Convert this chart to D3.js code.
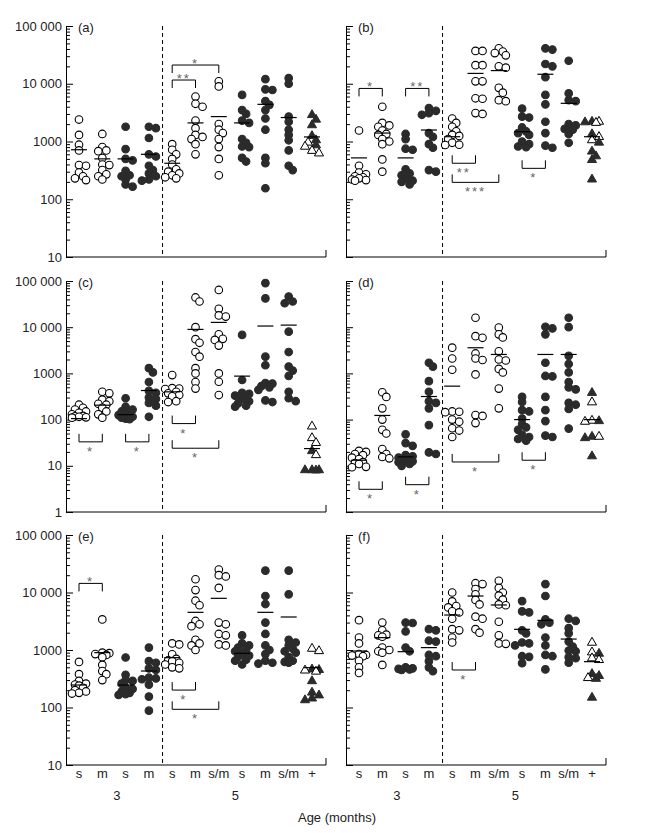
<!DOCTYPE html>
<html>
<head>
<meta charset="utf-8">
<script src="https://cdn.jsdelivr.net/npm/d3@7"></script>
<style>
  body { margin: 0; background: #fff; }
  svg { display: block; font-family: "Liberation Sans", Arial, sans-serif; }
</style>
</head>
<body>
<svg id="fig" width="652" height="833"></svg>
<script>
// column labels along the bottom
const groupLabels = ["s", "m", "s", "m", "s", "m", "s/m", "s", "m", "s/m", "+"];
const ageLabels = ["3", "5"];
const panelNames = ["(a)", "(b)", "(c)", "(d)", "(e)", "(f)"];
const openCols = [0, 1, 4, 5, 6]; // open circles, the others filled

// --- (a) ---
const a_vals = [
  [2400, 1300, 880, 700, 390, 380, 290, 250, 230, 215],
  [1350, 800, 700, 680, 520, 400, 390, 320, 270, 250, 220],
  [1800, 740, 500, 470, 310, 260, 250, 220, 180, 165],
  [1800, 1700, 1150, 600, 550, 380, 320, 280, 250, 220, 210],
  [900, 720, 600, 500, 400, 330, 300, 280, 260, 240, 230],
  [6000, 4500, 4000, 2300, 1700, 1300, 1200, 1100, 900, 600],
  [11000, 9000, 2000, 1600, 1400, 1100, 800, 500, 260],
  [6400, 3500, 3000, 2300, 2100, 1100, 950, 820, 800, 520, 450],
  [12000, 8000, 7800, 5000, 4300, 3500, 2500, 1600, 520, 420, 155],
  [12500, 10000, 2700, 2200, 1600, 1300, 1050, 700, 380, 320]
];
const a_plusFilled = [3000, 2500, 2000, 1300, 1100, 900];
const a_plusOpen = [1000, 850, 720, 650];
const a_means = [720, 500, 500, 600, 420, 2100, 2700, 2100, 4400, 2600, 1200];
const a_brackets = [[4, 5, 11600, "down", "**"], [4, 6, 21100, "down", "*"]];

// --- (b) ---
const b_vals = [
  [1550, 380, 290, 270, 250, 240, 230, 220, 215, 210],
  [4000, 2100, 1900, 1800, 1550, 1350, 1300, 1100, 1000, 900, 490, 300],
  [1350, 1100, 750, 720, 330, 280, 260, 230, 210, 200, 180],
  [3800, 3400, 3100, 2900, 1400, 1200, 900, 780, 320, 300],
  [2500, 2100, 1800, 1500, 1300, 1250, 1100, 950, 880, 870],
  [37000, 37000, 21000, 21000, 11000, 11000, 5600, 5500, 3100, 3000],
  [41000, 36000, 34000, 31000, 20000, 19000, 8500, 7000, 5200, 5000],
  [3700, 2700, 2600, 1750, 1500, 1400, 1300, 1000, 900, 820, 800],
  [41000, 39000, 22000, 20000, 13000, 6400, 4400, 2200, 1400, 850, 780],
  [25000, 6800, 5200, 5000, 2000, 1900, 1650, 1600, 1350, 950]
];
const b_plusFilled = [2300, 2250, 1400, 1000, 700, 580, 500, 230];
const b_plusOpen = [2300, 2200, 1250, 1100];
const b_means = [520, 1400, 520, 1580, 1210, 15100, 16900, 1480, 14600, 4580, 1210];
const b_brackets = [[0, 1, 8300, "down", "*"], [2, 3, 8300, "down", "**"],
  [4, 5, 420, "up", "**"], [4, 6, 196, "up", "***"], [7, 8, 343, "up", "*"]];

// --- (c) ---
const c_vals = [
  [210, 180, 165, 150, 140, 130, 120, 118, 115, 112, 110],
  [400, 370, 270, 250, 220, 210, 180, 150, 130, 110],
  [290, 190, 165, 150, 140, 130, 125, 115, 110, 105, 102],
  [1300, 1050, 650, 420, 380, 300, 280, 230, 200, 115],
  [920, 480, 470, 460, 400, 370, 340, 320, 250, 240],
  [44000, 36000, 10000, 5500, 4600, 2900, 2300, 1300, 1000, 650, 470],
  [64000, 25000, 18000, 17000, 7000, 5600, 5300, 4000, 1000, 660, 340],
  [6800, 720, 380, 360, 330, 310, 280, 250, 225, 200, 190],
  [90000, 42000, 2300, 1500, 620, 600, 530, 500, 440, 260, 240],
  [46000, 36000, 33000, 8000, 2900, 1400, 1150, 880, 400, 290, 250]
];
const c_plusFilled = [22, 8.5, 8.5, 8.5, 8.4];
const c_plusOpen = [75, 42, 33, 18];
const c_means = [105, 205, 128, 426, 399, 8960, 12700, 873, 10600, 11100, 23.6];
const c_brackets = [[0, 1, 33, "up", "*"], [2, 3, 33, "up", "*"],
  [4, 5, 82, "up", "*"], [4, 6, 24, "up", "*"]];

// --- (d) ---
const d_vals = [
  [21, 20, 18, 17, 15, 14, 12, 11.5, 11, 9.5, 9.3],
  [390, 310, 175, 100, 60, 50, 23, 18, 15.5, 14.5],
  [48, 31, 27, 17, 16, 15, 13, 12.5, 12, 11, 10],
  [1700, 1400, 680, 400, 250, 230, 175, 76, 19.5, 18],
  [3600, 2100, 1200, 150, 148, 145, 100, 90, 65, 58, 42],
  [16000, 6400, 5900, 2700, 2100, 1950, 950, 125, 120, 84],
  [9800, 7000, 6000, 3000, 2000, 1900, 1250, 1050, 470, 175],
  [310, 240, 160, 150, 105, 80, 68, 60, 47, 42, 38, 35],
  [10200, 9400, 7000, 1700, 880, 860, 310, 160, 93, 45, 42],
  [16000, 10000, 2400, 1600, 1050, 650, 500, 450, 230, 210, 170, 64]
];
const d_plusFilled = [400, 98, 45, 42, 17];
const d_plusOpen = [250, 100, 95, 45];
const d_means = [13.2, 123, 15.6, 316, 530, 3590, 2570, 100, 2570, 2570, 100];
const d_brackets = [[0, 1, 3.1, "up", "*"], [2, 3, 3.9, "up", "*"],
  [4, 6, 12.1, "up", "*"], [7, 8, 13.2, "up", "*"]];

// --- (e) ---
const e_vals = [
  [620, 380, 290, 260, 250, 240, 220, 200, 190, 180, 175],
  [3400, 900, 880, 850, 820, 750, 550, 430, 380, 300],
  [740, 370, 300, 290, 260, 220, 210, 190, 180, 170, 165],
  [1100, 640, 600, 480, 450, 330, 320, 310, 250, 155, 88],
  [1300, 1250, 840, 700, 660, 640, 600, 560, 500, 480],
  [17000, 11000, 7200, 6000, 3200, 2800, 2600, 1500, 1300, 1200, 1000],
  [25000, 20000, 19000, 12000, 3000, 2800, 1900, 1800, 1250, 1200],
  [1800, 1300, 1200, 1100, 1000, 950, 870, 800, 760, 680, 650, 560],
  [24000, 8700, 6300, 3000, 1900, 1200, 1000, 850, 650, 600, 580],
  [24000, 9300, 1500, 1350, 1200, 1050, 950, 900, 750, 650, 620, 600]
];
const e_plusFilled = [480, 470, 300, 190, 170, 150, 140];
const e_plusOpen = [1100, 1000, 460, 440];
const e_means = [246, 900, 246, 431, 736, 4520, 7920, 875, 4520, 3750, 493];
const e_brackets = [[0, 1, 14400, "down", "*"], [4, 5, 201, "up", "*"], [4, 6, 93, "up", "*"]];

// --- (f) ---
const f_vals = [
  [3300, 1650, 1300, 850, 820, 800, 780, 650, 500, 400],
  [3000, 2200, 1850, 1800, 1700, 1100, 1000, 950, 900, 550],
  [3000, 2950, 2100, 1100, 950, 500, 480, 470, 460, 450],
  [2300, 2200, 1450, 1400, 820, 780, 640, 500, 430],
  [10000, 7000, 5800, 5500, 4700, 4500, 3500, 2300, 2200, 1650, 1350],
  [14500, 14000, 11500, 9300, 7400, 6200, 3800, 3500, 2300, 2000],
  [16000, 12000, 10000, 8800, 7500, 6200, 6000, 3100, 1800, 1300, 1280],
  [7100, 4700, 4500, 2200, 1950, 1350, 1300, 1200, 780, 760, 590],
  [14000, 8700, 3400, 3000, 2800, 1650, 1200, 820, 780, 460],
  [3500, 3200, 2400, 1950, 1400, 1150, 980, 950, 750, 720, 600]
];
const f_plusFilled = [900, 400, 370, 330, 155];
const f_plusOpen = [1400, 950, 750, 700, 340];
const f_means = [960, 1640, 935, 1100, 4060, 8690, 6070, 2290, 3280, 1550, 627];
const f_brackets = [[4, 5, 449, "up", "*"]];

// layout
const svg = d3.select("#fig");
const colX0 = [66, 346];
const plotW = 260;
const rowY = [[26, 257], [281, 512], [535, 765]];
const rowDomain = [[10, 1e5], [1, 1e5], [10, 1e5]];
const dark = "#2b2b2b";

const panels = [
  [a_vals, a_plusFilled, a_plusOpen, a_means, a_brackets],
  [b_vals, b_plusFilled, b_plusOpen, b_means, b_brackets],
  [c_vals, c_plusFilled, c_plusOpen, c_means, c_brackets],
  [d_vals, d_plusFilled, d_plusOpen, d_means, d_brackets],
  [e_vals, e_plusFilled, e_plusOpen, e_means, e_brackets],
  [f_vals, f_plusFilled, f_plusOpen, f_means, f_brackets]
];

const fmt = d => d >= 10000 ? d3.format(",")(d).replace(/,/g, " ") : String(d);

// small dodge so points at similar heights sit side by side (they may overlap a bit)
function dodge(pts) {
  const offs = [0, 4, -4, 7, -7];
  const placed = [];
  pts.sort((p, q) => p.y - q.y).forEach(p => {
    let best = 0, bestD = -1;
    for (const o of offs) {
      const dmin = d3.min(placed, q => Math.hypot(q.dx - o, q.y - p.y)) ?? Infinity;
      if (dmin >= 5) { best = o; bestD = Infinity; break; }
      if (dmin > bestD) { bestD = dmin; best = o; }
    }
    p.dx = best;
    placed.push(p);
  });
  return pts;
}

panels.forEach(([vals, plusF, plusO, means, brackets], pi) => {
  const col = pi % 2, row = Math.floor(pi / 2);
  const x0 = colX0[col];
  const [yt, yb] = rowY[row];
  const dom = rowDomain[row];
  const g = svg.append("g");

  const y = d3.scaleLog().domain(dom).range([yb, yt]);
  const x = d3.scalePoint().domain(d3.range(11)).range([x0 + 13, x0 + 246]);

  const majors = [], minors = [];
  for (let k = dom[0]; k <= 1e5; k *= 10) {
    majors.push(k);
    if (k < 1e5) for (let m = 2; m <= 9; m++) minors.push(k * m);
  }

  // inward ticks on the left axis
  g.append("g").attr("transform", `translate(${x0},0)`)
    .call(d3.axisRight(y).tickValues(minors).tickSize(4).tickSizeOuter(0).tickFormat(""))
    .call(a => a.select(".domain").remove());
  g.append("g").attr("transform", `translate(${x0},0)`)
    .call(d3.axisRight(y).tickValues(majors).tickSize(7).tickSizeOuter(0).tickFormat(""));
  g.selectAll(".tick line").attr("stroke", "#000");

  if (col === 0) {
    g.selectAll(".ylab").data(majors).join("text")
      .attr("x", x0 - 4).attr("y", d => y(d))
      .attr("text-anchor", "end").attr("dominant-baseline", "central")
      .attr("font-size", 13).attr("fill", "#222")
      .text(fmt);
  }

  // bottom axis with the small tick at its right end
  g.append("path")
    .attr("d", `M${x0},${yb}H${x0 + plotW}V${yb - 7}`)
    .attr("fill", "none").attr("stroke", "#000");

  // dashed separator between 3 and 5 months
  const xd = (x(3) + x(4)) / 2 + 2;
  g.append("line").attr("x1", xd).attr("x2", xd).attr("y1", yt).attr("y2", yb)
    .attr("stroke", "#000").attr("stroke-dasharray", "4,3");

  g.append("text").attr("x", x0 + 12).attr("y", yt + 1)
    .attr("dominant-baseline", "central").attr("font-size", 13).attr("fill", "#222")
    .text(panelNames[pi]);

  // circles
  vals.forEach((arr, ci) => {
    const open = openCols.includes(ci);
    const pts = dodge(arr.map(v => ({ y: y(v) })));
    g.append("g").selectAll("circle").data(pts).join("circle")
      .attr("cx", d => x(ci) + d.dx).attr("cy", d => d.y).attr("r", 3.8)
      .attr("fill", open ? "#fff" : dark)
      .attr("stroke", open ? "#000" : dark).attr("stroke-width", 1.1);
  });

  // triangles for the "+" group
  const tri = dodge(plusF.map(v => ({ y: y(v), open: false }))
    .concat(plusO.map(v => ({ y: y(v), open: true }))));
  g.append("g").selectAll("path").data(tri).join("path")
    .attr("d", d3.symbol(d3.symbolTriangle, 36))
    .attr("transform", d => `translate(${x(10) + d.dx},${d.y + 1})`)
    .attr("fill", d => d.open ? "#fff" : dark)
    .attr("stroke", d => d.open ? "#000" : dark).attr("stroke-width", 1);

  // mean lines
  g.append("g").selectAll("line").data(means).join("line")
    .attr("x1", (d, i) => x(i) - 8).attr("x2", (d, i) => x(i) + 8)
    .attr("y1", d => y(d)).attr("y2", d => y(d))
    .attr("stroke", "#000").attr("stroke-width", 1.2);

  // significance brackets
  brackets.forEach(([i, j, v, dir, lab]) => {
    const yl = y(v);
    const e = dir === "down" ? 8 : -8;
    g.append("path")
      .attr("d", `M${x(i)},${yl + e}V${yl}H${x(j)}V${yl + e}`)
      .attr("fill", "none").attr("stroke", "#000");
    g.append("text")
      .attr("x", (x(i) + x(j)) / 2)
      .attr("y", dir === "down" ? yl + 3 : yl + 14)
      .attr("text-anchor", "middle").attr("font-size", 13)
      .attr("letter-spacing", 2).attr("fill", "#666")
      .text(lab);
  });

  // bottom labels on the last row
  if (row === 2) {
    g.selectAll(".glab").data(groupLabels).join("text")
      .attr("x", (d, i) => x(i)).attr("y", 778)
      .attr("text-anchor", "middle").attr("font-size", 13).attr("fill", "#222")
      .text(d => d);
    g.append("text").attr("x", (x(1) + x(2)) / 2 + 3).attr("y", 800)
      .attr("text-anchor", "middle").attr("font-size", 13).attr("fill", "#222")
      .text(ageLabels[0]);
    g.append("text").attr("x", (x(6) + x(7)) / 2 + 5).attr("y", 800)
      .attr("text-anchor", "middle").attr("font-size", 13).attr("fill", "#222")
      .text(ageLabels[1]);
  }
});

svg.append("text").attr("x", 337).attr("y", 822)
  .attr("text-anchor", "middle").attr("font-size", 13).attr("fill", "#222")
  .text("Age (months)");
</script>
</body>
</html>
